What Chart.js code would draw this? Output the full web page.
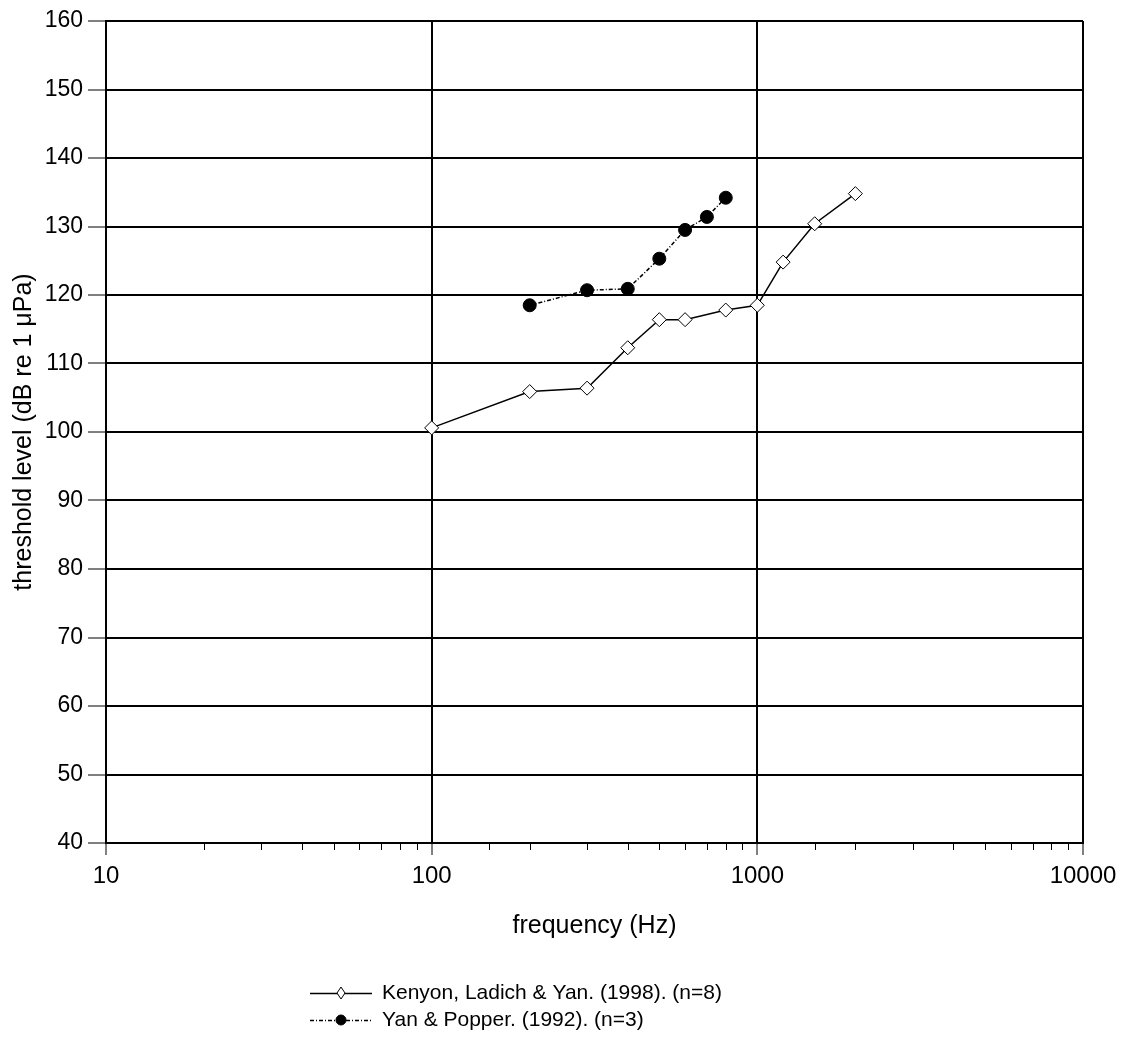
<!DOCTYPE html>
<html>
<head>
<meta charset="utf-8">
<title>Hearing thresholds</title>
<script src="https://cdn.jsdelivr.net/npm/chart.js@4"></script>
<style>
  html, body { margin: 0; padding: 0; background: #fff; }
  #wrap { width: 1129px; height: 1039px; position: relative; }
</style>
</head>
<body>
<div id="wrap"><canvas id="myChart"></canvas></div>
<script>
// data
const kenyonFreq = [100, 200, 300, 400, 500, 600, 800, 1000, 1200, 1500, 2000];
const kenyonLevel = [100.6, 105.9, 106.4, 112.3, 116.4, 116.4, 117.8, 118.5, 124.8, 130.4, 134.8];
const yanFreq = [200, 300, 400, 500, 600, 700, 800];
const yanLevel = [118.5, 120.7, 120.9, 125.3, 129.5, 131.4, 134.2];

const seriesNames = [
  "Kenyon, Ladich & Yan. (1998). (n=8)",
  "Yan & Popper. (1992). (n=3)",
];
const yTicks = { min: 40, max: 160, step: 10 };
const xRange = { min: 10, max: 10000 };

const FONT = "'Liberation Sans', Arial, sans-serif";

const toPoints = (xs, ys) => xs.map((x, i) => ({ x: x, y: ys[i] }));
const isPow10 = (v) => Math.abs(Math.log10(v) - Math.round(Math.log10(v))) < 1e-9;

// short minor ticks under the x axis (the long ones are the library's own)
const minorTicks = {
  id: "minorTicks",
  afterDraw(chart) {
    const xs = chart.scales.x;
    const ctx = chart.ctx;
    ctx.save();
    ctx.strokeStyle = "#000";
    ctx.lineWidth = 1;
    xs.ticks.forEach((t) => {
      if (isPow10(t.value)) return;
      const px = Math.round(xs.getPixelForValue(t.value)) + 0.5;
      ctx.beginPath();
      ctx.moveTo(px, xs.top);
      ctx.lineTo(px, xs.top + 7);
      ctx.stroke();
    });
    ctx.restore();
  },
};

// legend drawn as line + marker + label, like the original
const lineLegend = {
  id: "lineLegend",
  afterDraw(chart) {
    const ctx = chart.ctx;
    const x0 = 310, rowY = [993, 1020], sample = 62;
    ctx.save();
    chart.data.datasets.forEach((ds, i) => {
      const y = rowY[i];
      const cx = x0 + sample / 2;
      ctx.strokeStyle = "#000";
      ctx.lineWidth = ds.borderWidth;
      ctx.setLineDash(ds.borderDash || []);
      ctx.beginPath();
      ctx.moveTo(x0, y + 0.5);
      ctx.lineTo(x0 + sample, y + 0.5);
      ctx.stroke();
      ctx.setLineDash([]);
      ctx.lineWidth = 1;
      ctx.fillStyle = ds.pointBackgroundColor;
      ctx.beginPath();
      if (ds.pointStyle === "circle") {
        ctx.arc(cx, y, 5, 0, Math.PI * 2);
      } else {
        ctx.moveTo(cx, y - 6);
        ctx.lineTo(cx + 4, y);
        ctx.lineTo(cx, y + 6);
        ctx.lineTo(cx - 4, y);
        ctx.closePath();
      }
      ctx.fill();
      ctx.stroke();
      ctx.fillStyle = "#000";
      ctx.font = "21px " + FONT;
      ctx.textBaseline = "middle";
      ctx.textAlign = "left";
      ctx.fillText(ds.label, x0 + sample + 10, y);
    });
    ctx.restore();
  },
};

const chartData = {
  datasets: [
    {
      label: seriesNames[0],
      data: toPoints(kenyonFreq, kenyonLevel),
      borderColor: "#000",
      borderWidth: 1.5,
      pointStyle: "rectRot",
      pointRadius: 7,
      pointBackgroundColor: "#fff",
      pointBorderColor: "#000",
      pointBorderWidth: 1,
      tension: 0,
    },
    {
      label: seriesNames[1],
      data: toPoints(yanFreq, yanLevel),
      borderColor: "#000",
      borderWidth: 1.5,
      borderDash: [4, 2, 1, 2],
      pointStyle: "circle",
      pointRadius: 6.5,
      pointBackgroundColor: "#000",
      pointBorderColor: "#000",
      pointBorderWidth: 1,
      tension: 0,
    },
  ],
};

const chartOptions = {
  responsive: true,
  maintainAspectRatio: false,
  animation: false,
  layout: { padding: { left: 0, top: 21, right: 46, bottom: 94 } },
  plugins: { legend: { display: false }, tooltip: { enabled: false } },
  scales: {
    x: {
      type: "logarithmic",
      min: xRange.min,
      max: xRange.max,
      afterFit: (s) => { s.height = 102; },
      border: { color: "#000", width: 2 },
      grid: {
        lineWidth: 2,
        tickLength: 12,
        color: (c) => (c.tick && isPow10(c.tick.value) ? "#000" : "transparent"),
        tickColor: (c) => (c.tick && isPow10(c.tick.value) ? "#000" : "transparent"),
        tickWidth: 1,
      },
      ticks: {
        autoSkip: false,
        maxRotation: 0,
        padding: 7,
        color: "#000",
        font: { family: FONT, size: 24 },
        callback: (v) => (isPow10(v) ? String(v) : ""),
      },
      title: {
        display: true,
        text: "frequency (Hz)",
        color: "#000",
        font: { family: FONT, size: 25 },
        padding: { top: 0, bottom: 4 },
      },
    },
    y: {
      min: yTicks.min,
      max: yTicks.max,
      afterFit: (s) => { s.width = 106; },
      border: { color: "#000", width: 2 },
      grid: { color: "#000", lineWidth: 2, tickLength: 18, tickWidth: 1 },
      ticks: {
        stepSize: yTicks.step,
        padding: 5,
        color: "#000",
        font: { family: FONT, size: 23 },
      },
      title: {
        display: true,
        text: "threshold level (dB re 1 \u03bcPa)",
        color: "#000",
        font: { family: FONT, size: 25 },
        padding: { top: 9, bottom: 0 },
      },
    },
  },
};

new Chart(document.getElementById("myChart").getContext("2d"), {
  type: "line",
  data: chartData,
  options: chartOptions,
  plugins: [minorTicks, lineLegend],
});
</script>
</body>
</html>
